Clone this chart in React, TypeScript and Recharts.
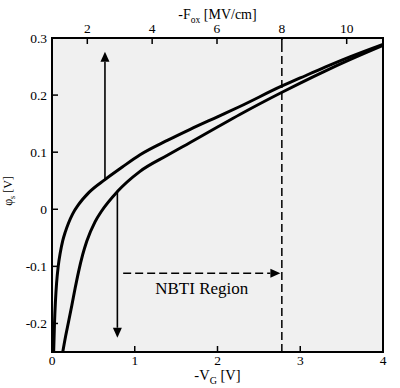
import React from "react";
import { LineChart, Line, XAxis, YAxis, ReferenceLine } from "recharts";

// surface potential vs gate voltage, two curves
const vgA = [0.02, 0.03, 0.042, 0.055, 0.075, 0.1, 0.13, 0.16, 0.2, 0.25, 0.32, 0.45, 0.64, 0.85, 1.06, 1.4, 1.67, 2.0, 2.27, 2.78, 3.0, 3.3, 3.6, 4.0];
const phiA = [-0.25, -0.2, -0.16, -0.13, -0.1, -0.076, -0.055, -0.04, -0.024, -0.008, 0.008, 0.03, 0.052, 0.074, 0.095, 0.121, 0.14, 0.162, 0.18, 0.216, 0.23, 0.249, 0.267, 0.289];

const vgB = [0.13, 0.165, 0.2, 0.24, 0.28, 0.32, 0.37, 0.42, 0.52, 0.6, 0.79, 1.06, 1.4, 1.67, 2.0, 2.27, 2.78, 3.0, 3.3, 3.6, 4.0];
const phiB = [-0.25, -0.222, -0.197, -0.168, -0.138, -0.11, -0.08, -0.056, -0.022, -0.003, 0.031, 0.066, 0.095, 0.117, 0.144, 0.166, 0.205, 0.221, 0.242, 0.262, 0.287];

// major (labelled) and minor ticks
const vgMajor = [0, 1, 2, 3, 4];
const vgMinor = [0.5, 1.5, 2.5, 3.5];
const foxMajor = [2, 4, 6, 8, 10];
const foxMinor = [1, 3, 5, 7, 9, 11];
const phiMajor = [-0.2, -0.1, 0, 0.1, 0.2, 0.3];
const phiMinor = [-0.25, -0.15, -0.05, 0.05, 0.15, 0.25];

// oxide field axis spans the same width as the V_G range
const vgRange = [0, 4];
const foxDomain = [0.911, 11.12];
const foxMarker = 8; // MV/cm
const phiRange = [-0.25, 0.3];

const upArrow = { x: 0.64, from: 0.051, to: 0.276 };
const downArrow = { x: 0.79, from: 0.031, to: -0.225 };
const nbtiArrow = { y: -0.112, from: 0.86, to: 2.76 };

const curveA = vgA.map((v, i) => ({ v, phi: phiA[i] }));
const curveB = vgB.map((v, i) => ({ v, phi: phiB[i] }));
const markerLine = phiRange.map((phi) => ({ f: foxMarker, phi }));

const W = 400;
const H = 388;
const M = { left: 52, right: 17, top: 38, bottom: 36 };

const FONT = "Liberation Serif";
const TICK_FS = 13.5;
const CSS = `body{margin:0}
#root svg text, #root svg tspan { font-family: "Liberation Serif", serif !important; }`;

const tickStroke = { stroke: "#000", strokeWidth: 1.5 };

function HLabel({ x, y, payload }: any) {
  return (
    <text x={x} y={y} textAnchor="middle" fontFamily={FONT} fontSize={TICK_FS} fill="#000">
      {payload.value}
    </text>
  );
}

function VLabel({ x, y, payload }: any) {
  return (
    <text x={x} y={y + 5} textAnchor="end" fontFamily={FONT} fontSize={TICK_FS} fill="#000">
      {String(payload.value)}
    </text>
  );
}

function BottomLabel({ viewBox }: any) {
  const cx = viewBox.x + viewBox.width / 2;
  return (
    <text x={cx} y={viewBox.y + 28} textAnchor="middle" fontFamily={FONT} fontSize={14.5} fill="#000">
      <tspan>-V</tspan>
      <tspan fontSize={10} dy={4}>G</tspan>
      <tspan dy={-4}> [V]</tspan>
    </text>
  );
}

function TopLabel({ viewBox }: any) {
  const cx = viewBox.x + viewBox.width / 2;
  return (
    <text x={cx} y={19} textAnchor="middle" fontFamily={FONT} fontSize={14} fill="#000">
      <tspan>-F</tspan>
      <tspan fontSize={9.5} dy={4}>ox</tspan>
      <tspan dy={-4}> [MV/cm]</tspan>
    </text>
  );
}

function LeftLabel() {
  const cy = 191;
  const bx = 12;
  return (
    <text
      x={bx}
      y={cy}
      transform={`rotate(-90 ${bx} ${cy})`}
      textAnchor="middle"
      fontFamily={FONT}
      fontSize={12}
      fill="#000"
    >
      <tspan>φ</tspan>
      <tspan fontSize={8} dy={3}>s</tspan>
      <tspan dy={-3}> [V]</tspan>
    </text>
  );
}

// line with a filled head at (x2, y2)
function arrowShape(dash?: string, caption?: string) {
  return (props: any) => {
    const { x1, y1, x2, y2 } = props;
    const len = Math.hypot(x2 - x1, y2 - y1) || 1;
    const ux = (x2 - x1) / len;
    const uy = (y2 - y1) / len;
    const hl = 10;
    const hw = 4.5;
    const bx = x2 - ux * hl;
    const by = y2 - uy * hl;
    const pts = `${x2},${y2} ${bx - uy * hw},${by + ux * hw} ${bx + uy * hw},${by - ux * hw}`;
    return (
      <g>
        <line x1={x1} y1={y1} x2={bx} y2={by} stroke="#000" strokeWidth={1.6} strokeDasharray={dash} />
        <polygon points={pts} fill="#000" />
        {caption && (
          <text x={(x1 + x2) / 2} y={y1 + 21} textAnchor="middle" fontFamily={FONT} fontSize={17} fill="#000">
            {caption}
          </text>
        )}
      </g>
    );
  };
}

const axisLine = { stroke: "#000", strokeWidth: 2, strokeLinecap: "square" as const };

export default function App() {
  return (
    <div style={{ position: "relative", width: W, height: H }}>
      <style>{CSS}</style>
      {/* plot-area shading sits behind the transparent svg */}
      <div
        style={{
          position: "absolute",
          left: M.left,
          top: M.top,
          width: W - M.left - M.right,
          height: H - M.top - M.bottom,
          background: "#f0f0f0",
        }}
      />
      <LineChart width={W} height={H} margin={{ top: 0, right: 0, bottom: 0, left: 0 }}>
        {/* main axes: frame, inward major ticks, labels */}
        <XAxis
          xAxisId="v"
          dataKey="v"
          type="number"
          domain={vgRange}
          ticks={vgMajor}
          interval={0}
          height={M.bottom}
          tickSize={-6}
          tickMargin={19}
          tickLine={tickStroke}
          axisLine={axisLine}
          tick={HLabel}
          allowDataOverflow
          label={BottomLabel}
        />
        <XAxis
          xAxisId="f"
          dataKey="f"
          orientation="top"
          type="number"
          domain={foxDomain}
          ticks={foxMajor}
          interval={0}
          height={M.top}
          tickSize={-6}
          tickMargin={11}
          tickLine={tickStroke}
          axisLine={axisLine}
          tick={HLabel}
          allowDataOverflow
          label={TopLabel}
        />
        <YAxis
          yAxisId="l"
          type="number"
          domain={phiRange}
          ticks={phiMajor}
          interval={0}
          width={M.left}
          tickSize={-6}
          tickMargin={11}
          tickLine={tickStroke}
          axisLine={axisLine}
          tick={VLabel}
          allowDataOverflow
          label={LeftLabel}
        />
        <YAxis
          yAxisId="r"
          orientation="right"
          type="number"
          domain={phiRange}
          ticks={phiMajor}
          interval={0}
          width={M.right}
          tickSize={-6}
          tickLine={tickStroke}
          axisLine={axisLine}
          tick={false}
          allowDataOverflow
        />
        {/* mirrored axes carry the short minor ticks */}
        <XAxis
          xAxisId="vMinor"
          type="number"
          mirror
          domain={vgRange}
          ticks={vgMinor}
          interval={0}
          height={0}
          tickSize={3}
          tickLine={tickStroke}
          axisLine={false}
          tick={false}
          allowDataOverflow
        />
        <XAxis
          xAxisId="fMinor"
          orientation="top"
          type="number"
          mirror
          domain={foxDomain}
          ticks={foxMinor}
          interval={0}
          height={0}
          tickSize={3}
          tickLine={tickStroke}
          axisLine={false}
          tick={false}
          allowDataOverflow
        />
        <YAxis
          yAxisId="lMinor"
          type="number"
          mirror
          domain={phiRange}
          ticks={phiMinor}
          interval={0}
          width={0}
          tickSize={3}
          tickLine={tickStroke}
          axisLine={false}
          tick={false}
          allowDataOverflow
        />
        <YAxis
          yAxisId="rMinor"
          orientation="right"
          type="number"
          mirror
          domain={phiRange}
          ticks={phiMinor}
          interval={0}
          width={0}
          tickSize={3}
          tickLine={tickStroke}
          axisLine={false}
          tick={false}
          allowDataOverflow
        />
        <Line
          xAxisId="f"
          yAxisId="l"
          data={markerLine}
          dataKey="phi"
          type="linear"
          stroke="#000"
          strokeWidth={1.5}
          strokeDasharray="8 4"
          dot={false}
          isAnimationActive={false}
        />
        <Line
          xAxisId="v"
          yAxisId="l"
          data={curveA}
          dataKey="phi"
          type="monotone"
          stroke="#000"
          strokeWidth={3}
          dot={false}
          isAnimationActive={false}
        />
        <Line
          xAxisId="v"
          yAxisId="l"
          data={curveB}
          dataKey="phi"
          type="monotone"
          stroke="#000"
          strokeWidth={3}
          dot={false}
          isAnimationActive={false}
        />
        <ReferenceLine
          xAxisId="v"
          yAxisId="l"
          segment={[
            { x: upArrow.x, y: upArrow.from },
            { x: upArrow.x, y: upArrow.to },
          ]}
          shape={arrowShape()}
        />
        <ReferenceLine
          xAxisId="v"
          yAxisId="l"
          segment={[
            { x: downArrow.x, y: downArrow.from },
            { x: downArrow.x, y: downArrow.to },
          ]}
          shape={arrowShape()}
        />
        <ReferenceLine
          xAxisId="v"
          yAxisId="l"
          segment={[
            { x: nbtiArrow.from, y: nbtiArrow.y },
            { x: nbtiArrow.to, y: nbtiArrow.y },
          ]}
          shape={arrowShape("8 4", "NBTI Region")}
        />
      </LineChart>
    </div>
  );
}
